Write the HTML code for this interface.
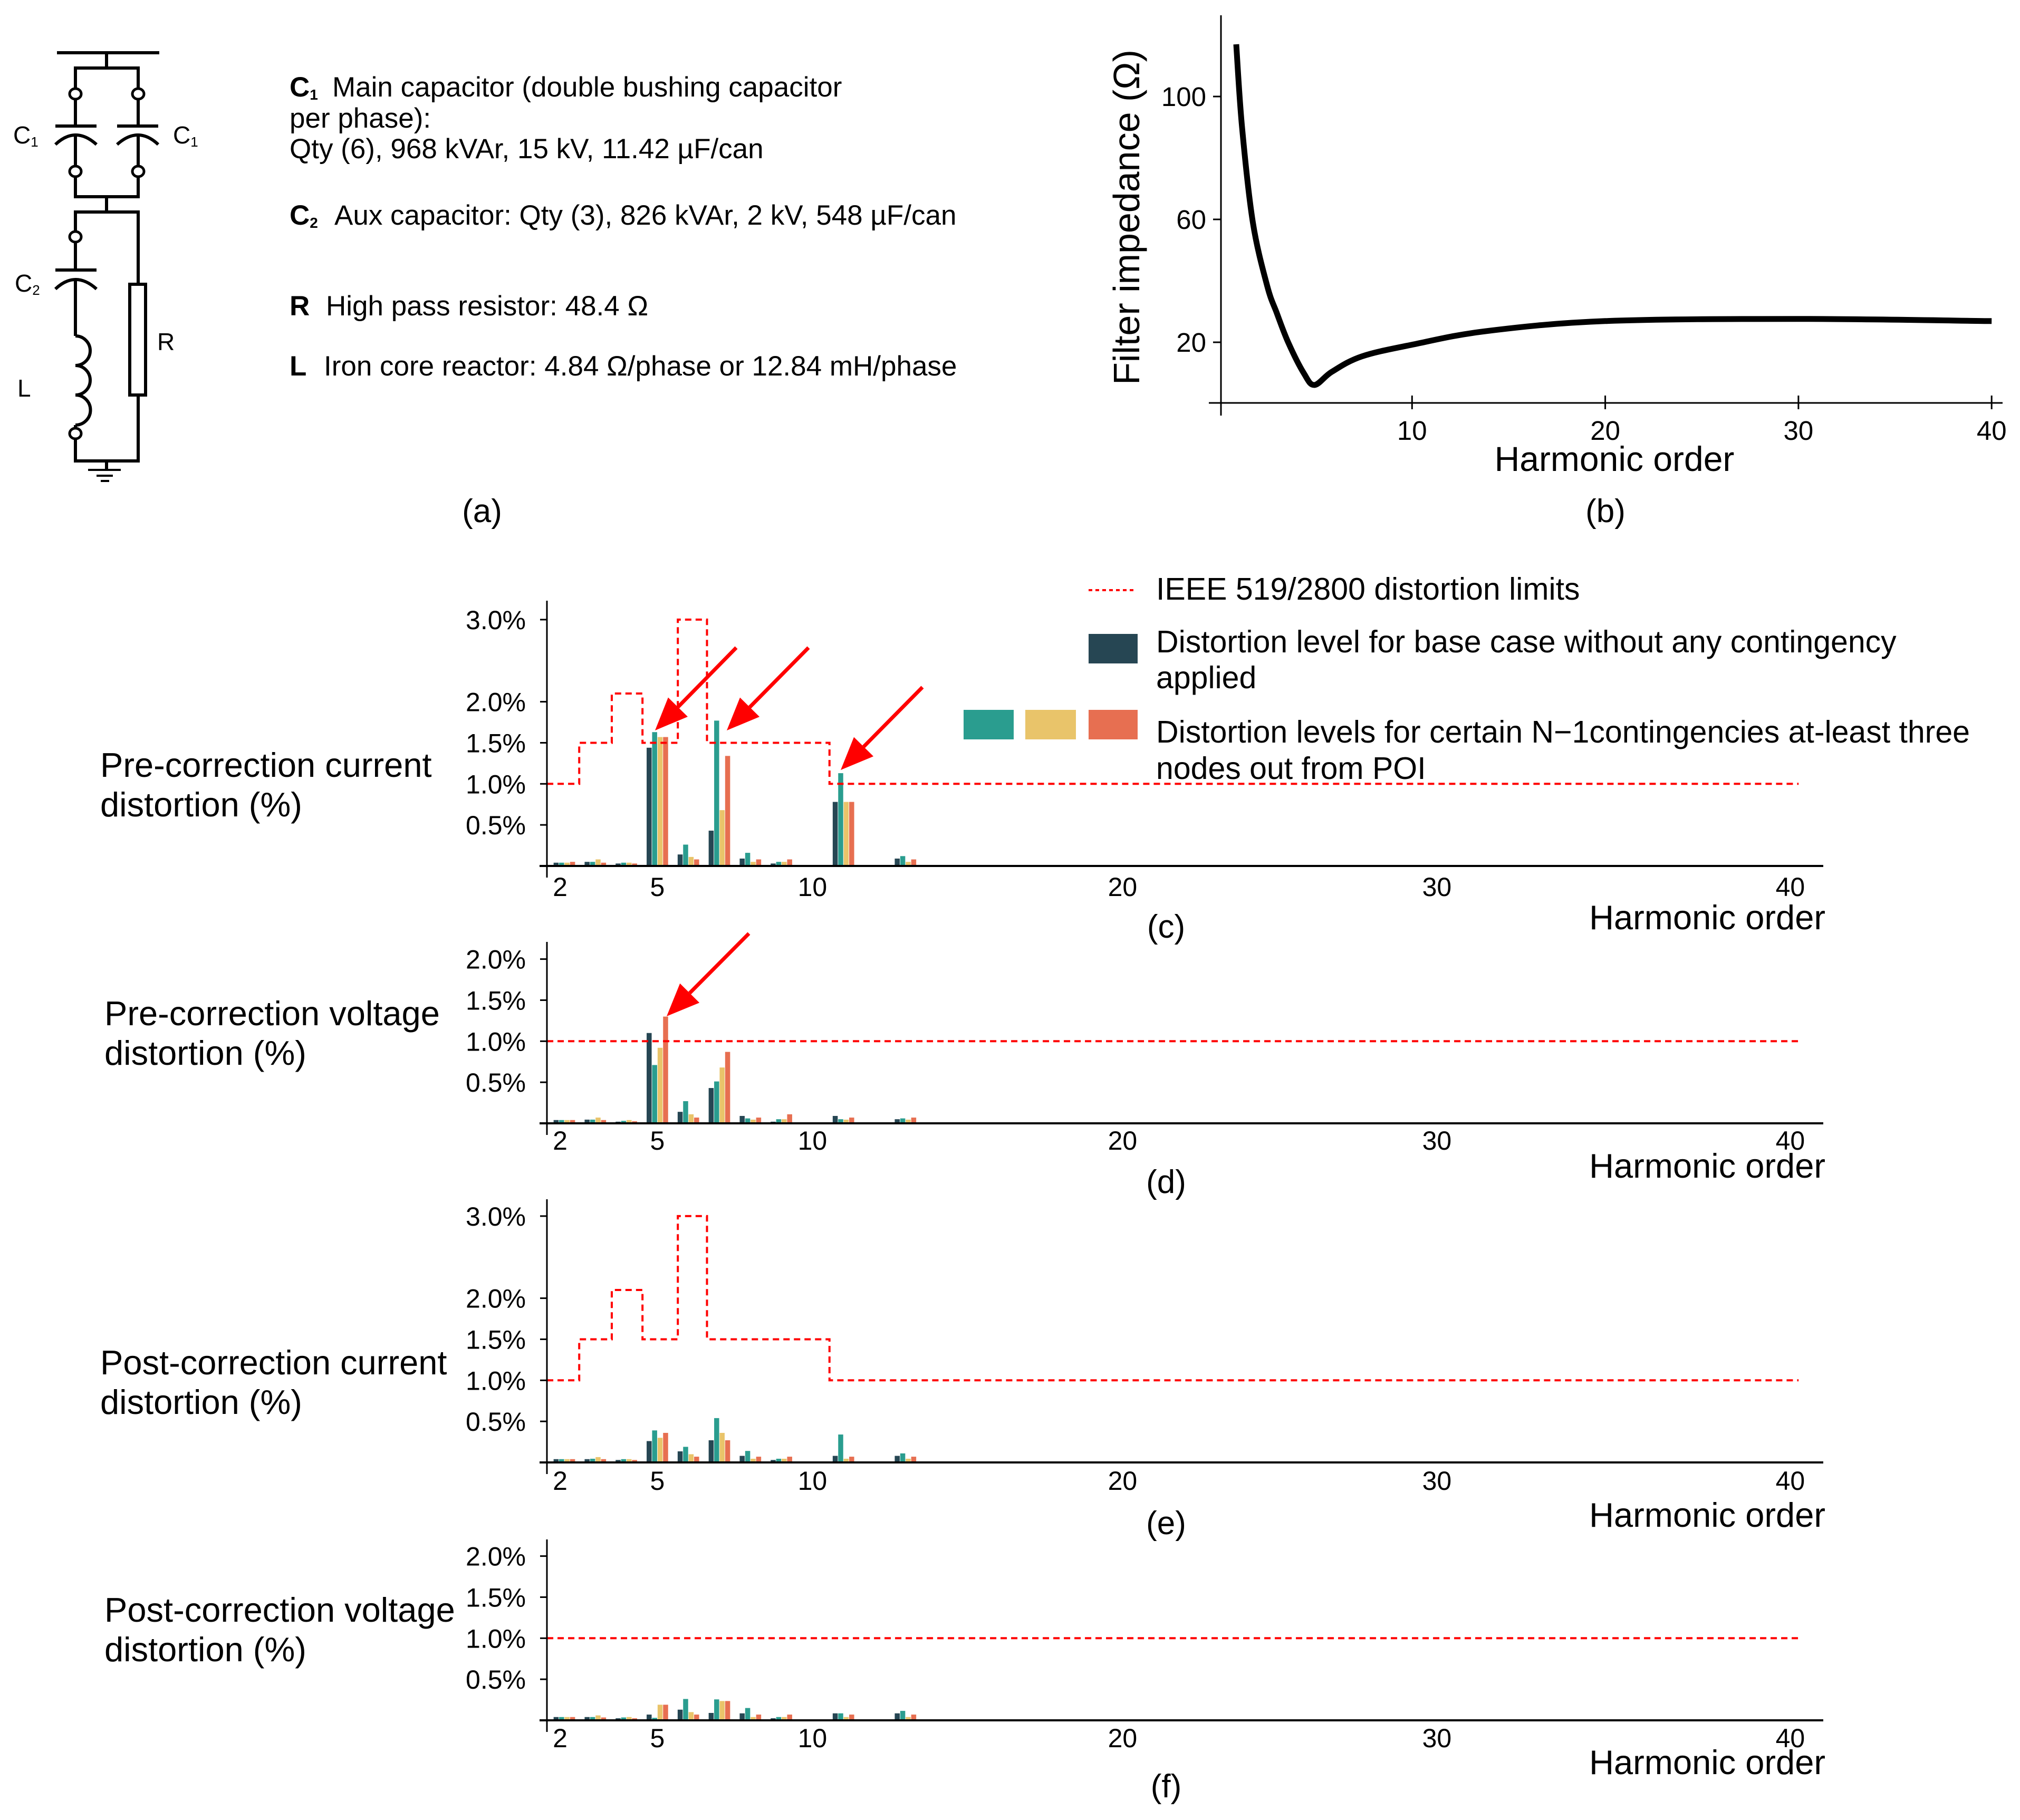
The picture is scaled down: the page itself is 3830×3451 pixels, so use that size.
<!DOCTYPE html>
<html><head><meta charset="utf-8"><style>
html,body{margin:0;padding:0;background:#fff;}
svg{display:block;font-family:"Liberation Sans",Arial,sans-serif;}
</style></head><body>
<svg id="fig" width="3830" height="3451" viewBox="0 0 3830 3451" xmlns="http://www.w3.org/2000/svg">
<rect width="3830" height="3451" fill="#fff"/>
<g id="circuit" stroke="#000" stroke-width="6" fill="none">
<line x1="108" y1="100" x2="302" y2="100"/>
<line x1="202" y1="100" x2="202" y2="129"/>
<polyline points="143,178 143,129 262,129 262,178"/>
<line x1="143" y1="178" x2="143" y2="239"/><line x1="262" y1="178" x2="262" y2="239"/>
<line x1="105" y1="239" x2="183" y2="239"/><line x1="222" y1="239" x2="300" y2="239"/>
<path d="M105 274 Q143 238 183 274"/><path d="M222 274 Q262 238 300 274"/>
<line x1="143" y1="256" x2="143" y2="325"/><line x1="262" y1="256" x2="262" y2="325"/>
<polyline points="143,325 143,373 262,373 262,325"/>
<line x1="202" y1="373" x2="202" y2="402"/>
<polyline points="143,449 143,402 262,402 262,539"/>
<line x1="143" y1="449" x2="143" y2="512"/>
<line x1="105" y1="512" x2="183" y2="512"/>
<path d="M105 548 Q143 512 183 548"/>
<line x1="143" y1="530" x2="143" y2="637"/>
<path d="M143 637 A28 28 0 0 1 143 693 A28 28 0 0 1 143 749 A28 28 0 0 1 143 806"/>
<line x1="143" y1="806" x2="143" y2="822"/>
<polyline points="143,822 143,874 262,874 262,749"/>
<rect x="246" y="539" width="30" height="210" fill="#fff"/>
<line x1="202" y1="874" x2="202" y2="891"/>
<line x1="167" y1="891" x2="229" y2="891" stroke-width="4"/>
<line x1="183" y1="902" x2="214" y2="902" stroke-width="4"/>
<line x1="191" y1="912" x2="207" y2="912" stroke-width="4"/>
<g fill="#fff" stroke-width="5">
<ellipse cx="143" cy="178" rx="11" ry="10"/><ellipse cx="262" cy="178" rx="11" ry="10"/>
<ellipse cx="143" cy="325" rx="11" ry="10"/><ellipse cx="262" cy="325" rx="11" ry="10"/>
<ellipse cx="143" cy="449" rx="11" ry="10"/><ellipse cx="143" cy="822" rx="11" ry="10"/>
</g>
</g>
<g font-size="46" fill="#000">
<text x="25" y="272">C<tspan font-size="26" dy="6">1</tspan></text>
<text x="328" y="272">C<tspan font-size="26" dy="6">1</tspan></text>
<text x="28" y="553">C<tspan font-size="26" dy="6">2</tspan></text>
<text x="298" y="664">R</text>
<text x="33" y="752">L</text>
</g>
<g font-size="53" fill="#000">
<text x="549" y="183"><tspan font-weight="bold">C</tspan><tspan font-weight="bold" font-size="28" dy="6">1</tspan><tspan dy="-6" x="630">Main capacitor (double bushing capacitor</tspan></text>
<text x="549" y="242">per phase):</text>
<text x="549" y="300">Qty (6), 968 kVAr, 15 kV, 11.42 µF/can</text>
<text x="549" y="426"><tspan font-weight="bold">C</tspan><tspan font-weight="bold" font-size="28" dy="6">2</tspan><tspan dy="-6" x="634">Aux capacitor: Qty (3), 826 kVAr, 2 kV, 548 µF/can</tspan></text>
<text x="549" y="598"><tspan font-weight="bold">R</tspan><tspan x="618">High pass resistor: 48.4 Ω</tspan></text>
<text x="549" y="712"><tspan font-weight="bold">L</tspan><tspan x="614">Iron core reactor: 4.84 Ω/phase or 12.84 mH/phase</tspan></text>
</g>
<text x="914" y="990" font-size="62" text-anchor="middle">(a)</text>
<text x="3044" y="990" font-size="62" text-anchor="middle">(b)</text>
<g font-size="59">
<line x1="2064" y1="1119" x2="2150" y2="1119" stroke="#f00" stroke-width="4" stroke-dasharray="7,6"/>
<text x="2192" y="1137">IEEE 519/2800 distortion limits</text>
<rect x="2064" y="1202" width="93" height="56" fill="#264653"/>
<text x="2192" y="1237">Distortion level for base case without any contingency</text>
<text x="2192" y="1305">applied</text>
<rect x="1827" y="1346" width="95" height="56" fill="#2a9d8f"/>
<rect x="1944" y="1346" width="96" height="56" fill="#e9c46a"/>
<rect x="2064" y="1346" width="93" height="56" fill="#e76f51"/>
<text x="2192" y="1408">Distortion levels for certain N−1contingencies at-least three</text>
<text x="2192" y="1477">nodes out from POI</text>
</g>
<g id="charts"></g>
</svg>
<script>
// ---- chart (b) data ----
const impHarm = [0.9, 1.2, 1.76, 2.5, 3.0, 3.6, 4.4, 4.95, 5.85, 7.4, 10, 13.8, 20, 30, 40];
const impVal = [117, 90, 59, 38.4, 29.5, 19.8, 9.9, 6.1, 10.4, 15.4, 19.2, 23.6, 26.9, 27.6, 26.9];
const impYTicks = [20, 60, 100];
const impXTicks = [10, 20, 30, 40];

// ---- bar charts data ----
const harmonics = [2, 3, 4, 5, 6, 7, 8, 9, 11, 13];
const cBase = [0.04, 0.05, 0.03, 1.44, 0.14, 0.43, 0.09, 0.03, 0.78, 0.09];
const cTeal = [0.04, 0.05, 0.04, 1.63, 0.26, 1.77, 0.16, 0.05, 1.13, 0.12];
const cYellow = [0.04, 0.08, 0.04, 1.57, 0.11, 0.68, 0.05, 0.05, 0.78, 0.05];
const cOrange = [0.05, 0.04, 0.03, 1.57, 0.08, 1.34, 0.08, 0.08, 0.78, 0.08];
const dBase = [0.04, 0.045, 0.02, 1.10, 0.14, 0.43, 0.09, 0.02, 0.09, 0.05];
const dTeal = [0.04, 0.045, 0.03, 0.71, 0.27, 0.51, 0.06, 0.05, 0.05, 0.06];
const dYellow = [0.04, 0.07, 0.04, 0.92, 0.11, 0.68, 0.045, 0.05, 0.045, 0.045];
const dOrange = [0.04, 0.04, 0.025, 1.30, 0.07, 0.87, 0.07, 0.11, 0.07, 0.07];
const eBase = [0.04, 0.04, 0.03, 0.26, 0.135, 0.27, 0.08, 0.03, 0.08, 0.08];
const eTeal = [0.04, 0.045, 0.04, 0.39, 0.19, 0.54, 0.14, 0.045, 0.34, 0.11];
const eYellow = [0.04, 0.065, 0.04, 0.30, 0.10, 0.36, 0.045, 0.045, 0.045, 0.045];
const eOrange = [0.04, 0.04, 0.03, 0.36, 0.07, 0.27, 0.07, 0.07, 0.07, 0.07];
const fBase = [0.04, 0.04, 0.025, 0.07, 0.13, 0.09, 0.085, 0.025, 0.085, 0.085];
const fTeal = [0.04, 0.04, 0.035, 0.03, 0.26, 0.255, 0.15, 0.04, 0.085, 0.115];
const fYellow = [0.04, 0.06, 0.04, 0.19, 0.10, 0.235, 0.04, 0.04, 0.04, 0.04];
const fOrange = [0.04, 0.035, 0.025, 0.19, 0.07, 0.235, 0.07, 0.07, 0.07, 0.07];
const currentLimitEdges = [1.44, 2.48, 3.53, 4.52, 5.66, 6.6, 10.55, 41.8];
const currentLimitLevels = [1.0, 1.5, 2.1, 1.5, 3.0, 1.5, 1.0];
const voltageLimitEdges = [1.44, 41.8];
const voltageLimitLevels = [1.0];
const currentYTicks = [0.5, 1.0, 1.5, 2.0, 3.0];
const voltageYTicks = [0.5, 1.0, 1.5, 2.0];
const harmXTicks = [2, 5, 10, 20, 30, 40];
const labelNudge = {2: -8, 30: 8, 40: 90};

const NS = 'http://www.w3.org/2000/svg';
const root = document.getElementById('charts');
function mk(tag, attrs, parent, txt) {
  const e = document.createElementNS(NS, tag);
  for (const k in attrs) e.setAttribute(k, attrs[k]);
  if (txt !== undefined) e.textContent = txt;
  (parent || root).appendChild(e);
  return e;
}

const bx = h => 2311 + h * 36.63;
const by = v => 765.5 - v * 5.825;
const gb = mk('g', {});


let l = mk('line', {x1: 2315, y1: 29, x2: 2315, y2: 788, stroke: '#000', 'stroke-width': 3}, gb);


l = mk('line', {x1: 2292, y1: 764, x2: 3797, y2: 764, stroke: '#000', 'stroke-width': 3}, gb);


impYTicks.forEach(v => {
  const t = mk('line', {x1: 2300, y1: by(v), x2: 2315, y2: by(v), stroke: '#000', 'stroke-width': 3}, gb);
  
  
  const tx = mk('text', {x: 2287, y: by(v) + 18, 'font-size': 51, 'text-anchor': 'end'}, gb, String(v));
  
  
});
impXTicks.forEach(v => {
  const t = mk('line', {x1: bx(v), y1: 750, x2: bx(v), y2: 776, stroke: '#000', 'stroke-width': 3}, gb);
  
  
  const tx = mk('text', {x: bx(v), y: 834, 'font-size': 51, 'text-anchor': 'middle'}, gb, String(v));
  
  
});
let tt = mk('text', {x: 3061, y: 893, 'font-size': 66, 'text-anchor': 'middle'}, gb, 'Harmonic order');


tt = mk('text', {x: 0, y: 0, 'font-size': 70, 'text-anchor': 'middle', transform: 'translate(2160,412) rotate(-90)'}, gb, 'Filter impedance (Ω)');


const pts = impHarm.map((h, i) => [bx(h), by(impVal[i])]);
let d = 'M' + pts[0][0] + ' ' + pts[0][1];
for (let i = 0; i < pts.length - 1; i++) {
  const p0 = pts[Math.max(0, i - 1)], p1 = pts[i], p2 = pts[i + 1], p3 = pts[Math.min(pts.length - 1, i + 2)];
  const c1 = [p1[0] + (p2[0] - p0[0]) / 6, p1[1] + (p2[1] - p0[1]) / 6];
  const c2 = [p2[0] - (p3[0] - p1[0]) / 6, p2[1] - (p3[1] - p1[1]) / 6];
  d += ` C${c1[0]} ${c1[1]} ${c2[0]} ${c2[1]} ${p2[0]} ${p2[1]}`;
}
const curve = mk('path', {d: d, fill: 'none', stroke: '#000', 'stroke-width': 11, 'stroke-linejoin': 'round'}, gb);



const colors = ['#264653', '#2a9d8f', '#e9c46a', '#e76f51'];
const hx = h => 1070 + (h - 2) * 58.8;
const PX = 155.7;
const panels = [
  {key: 'c', zero: 1642, top: 1139, series: [cBase, cTeal, cYellow, cOrange], edges: currentLimitEdges, levels: currentLimitLevels, ticks: currentYTicks,
   lab: ['Pre-correction current', 'distortion (%)'], labX: 190, labY: 1473, xlabY: 1699, hoY: 1762, pY: 1778},
  {key: 'd', zero: 2130, top: 1786, series: [dBase, dTeal, dYellow, dOrange], edges: voltageLimitEdges, levels: voltageLimitLevels, ticks: voltageYTicks,
   lab: ['Pre-correction voltage', 'distortion (%)'], labX: 198, labY: 1944, xlabY: 2180, hoY: 2233, pY: 2262},
  {key: 'e', zero: 2773, top: 2274, series: [eBase, eTeal, eYellow, eOrange], edges: currentLimitEdges, levels: currentLimitLevels, ticks: currentYTicks,
   lab: ['Post-correction current', 'distortion (%)'], labX: 190, labY: 2606, xlabY: 2825, hoY: 2895, pY: 2909},
  {key: 'f', zero: 3262, top: 2919, series: [fBase, fTeal, fYellow, fOrange], edges: voltageLimitEdges, levels: voltageLimitLevels, ticks: voltageYTicks,
   lab: ['Post-correction voltage', 'distortion (%)'], labX: 198, labY: 3075, xlabY: 3313, hoY: 3364, pY: 3408}
];
const seriesNames = ['base', 'teal', 'yellow', 'orange'];
panels.forEach(p => {
  const g = mk('g', {});
  
  
  const y = v => p.zero - v * PX;
  p.series.forEach((ser, si) => {
    ser.forEach((v, i) => {
      const cx = hx(harmonics[i]) + (si - 1.5) * 10.4;
      const r = mk('rect', {x: cx - 4.75, y: y(v), width: 9.5, height: v * PX, fill: colors[si]}, g);
      
      
    });
  });
  let ld = '';
  p.levels.forEach((lv, i) => {
    const x0 = hx(p.edges[i]), x1 = hx(p.edges[i + 1]);
    if (i === 0) ld += `M${x0} ${y(lv)}`; else ld += ` L${x0} ${y(lv)}`;
    ld += ` L${x1} ${y(lv)}`;
  });
  const lp = mk('path', {d: ld, fill: 'none', stroke: '#f00', 'stroke-width': 4, 'stroke-dasharray': '12,8'}, g);
  
  
  let a = mk('line', {x1: 1037, y1: p.top, x2: 1037, y2: p.zero + 22, stroke: '#000', 'stroke-width': 3}, g);
  
  
  a = mk('line', {x1: 1023, y1: p.zero, x2: 3457, y2: p.zero, stroke: '#000', 'stroke-width': 4}, g);
  
  
  p.ticks.forEach(v => {
    const t = mk('line', {x1: 1024, y1: y(v), x2: 1037, y2: y(v), stroke: '#000', 'stroke-width': 3}, g);
    
    
    const tx = mk('text', {x: 997, y: y(v) + 18, 'font-size': 50, 'text-anchor': 'end'}, g, v.toFixed(1) + '%');
    
    
  });
  harmXTicks.forEach(v => {
    const tx = mk('text', {x: hx(v) + (labelNudge[v] || 0), y: p.xlabY, 'font-size': 50, 'text-anchor': 'middle'}, g, String(v));
    
    
  });
  let t = mk('text', {x: 3461, y: p.hoY, 'font-size': 65, 'text-anchor': 'end'}, g, 'Harmonic order');
  
  
  t = mk('text', {x: 2211, y: p.pY, 'font-size': 62, 'text-anchor': 'middle'}, g, '(' + p.key + ')');
  
  
  t = mk('text', {x: p.labX, y: p.labY, 'font-size': 65}, g, p.lab[0]);
  
  
  t = mk('text', {x: p.labX, y: p.labY + 75, 'font-size': 65}, g, p.lab[1]);
  
  
});

const arrows = [[1396, 1228, 1242, 1385], [1533, 1228, 1378, 1385], [1749, 1303, 1594, 1460], [1420, 1770, 1264, 1927]];
arrows.forEach(ar => {
  const [x0, y0, x1, y1] = ar;
  const dx = x1 - x0, dy = y1 - y0, L = Math.hypot(dx, dy), ux = dx / L, uy = dy / L;
  const hl = 62, hw = 26;
  const bxp = x1 - ux * hl, byp = y1 - uy * hl;
  const g = mk('g', {});
  
  
  mk('line', {x1: x0, y1: y0, x2: bxp, y2: byp, stroke: '#f00', 'stroke-width': 7}, g);
  mk('polygon', {points: `${x1},${y1} ${bxp - uy * hw},${byp + ux * hw} ${bxp + uy * hw},${byp - ux * hw}`, fill: '#f00'}, g);
});
</script>
</body></html>
